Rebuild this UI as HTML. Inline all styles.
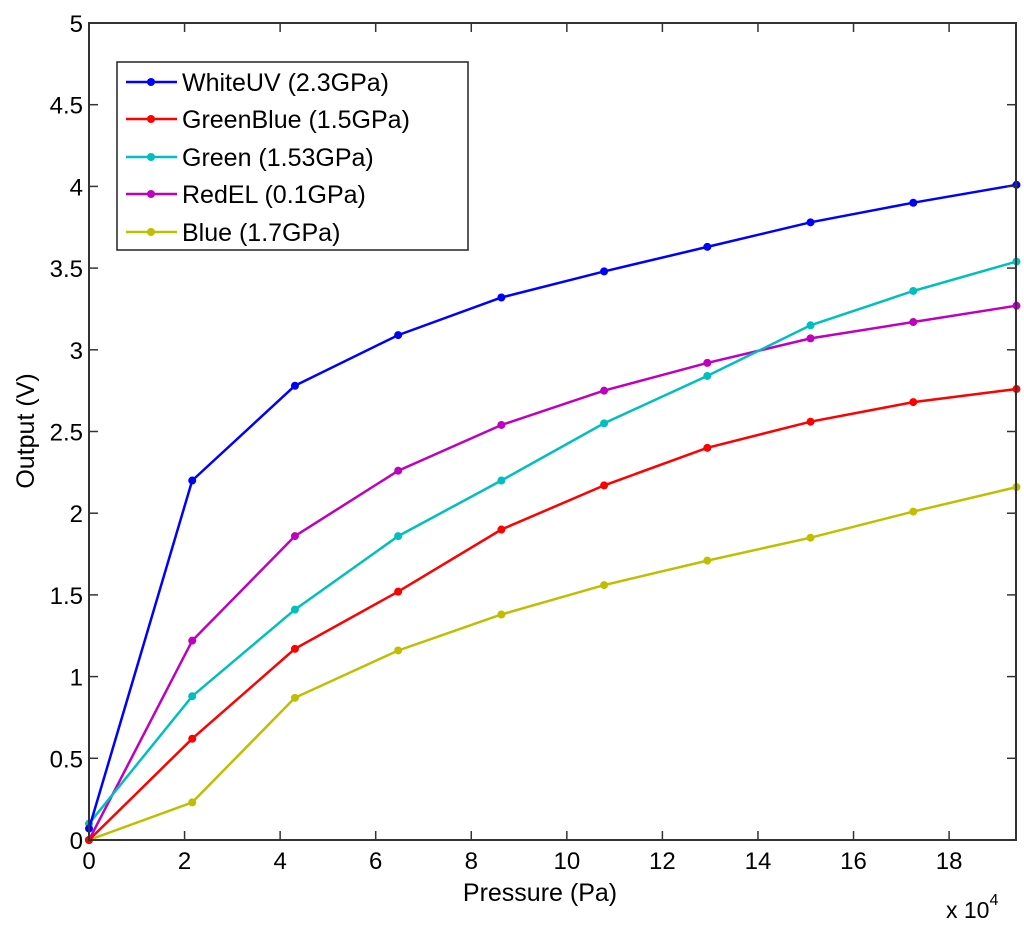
<!DOCTYPE html>
<html><head><meta charset="utf-8"><style>
body{margin:0;background:#fff;}
svg{display:block;font-family:"Liberation Sans",Arial,sans-serif;}
</style></head><body>
<svg id="chart" width="1024" height="926" viewBox="0 0 1024 926" xmlns="http://www.w3.org/2000/svg">
<rect x="0" y="0" width="1024" height="926" fill="#fff"/>
<g id="series"></g>
<rect x="89" y="23" width="927" height="817" fill="none" stroke="#333" stroke-width="2"/>
<g id="ticks"></g>
<text x="540" y="901" font-size="25" text-anchor="middle">Pressure (Pa)</text>
<text x="946" y="918" font-size="23">x 10<tspan dy="-13" font-size="16">4</tspan></text>
<text transform="translate(34,431) rotate(-90)" font-size="25" text-anchor="middle">Output (V)</text>
<g id="legend">
<rect x="117" y="62" width="351" height="188" fill="#fff" stroke="#222" stroke-width="1.5"/>
</g>
</svg>
<script>
const xValues=[0,2.16,4.31,6.47,8.63,10.78,12.94,15.1,17.25,19.41];
const seriesNames=["WhiteUV (2.3GPa)","GreenBlue (1.5GPa)","Green (1.53GPa)","RedEL (0.1GPa)","Blue (1.7GPa)"];
const whiteUV=[0.07,2.2,2.78,3.09,3.32,3.48,3.63,3.78,3.90,4.01];
const greenBlue=[0,0.62,1.17,1.52,1.90,2.17,2.40,2.56,2.68,2.76];
const green=[0.1,0.88,1.41,1.86,2.20,2.55,2.84,3.15,3.36,3.54];
const redEL=[0,1.22,1.86,2.26,2.54,2.75,2.92,3.07,3.17,3.27];
const blue=[0,0.23,0.87,1.16,1.38,1.56,1.71,1.85,2.01,2.16];
const xTicks=[0,2,4,6,8,10,12,14,16,18];
const yTicks=[0,0.5,1,1.5,2,2.5,3,3.5,4,4.5,5];
const yTickLabels=["0","0.5","1","1.5","2","2.5","3","3.5","4","4.5","5"];

const NS="http://www.w3.org/2000/svg";
const X0=89,X1=1016,Y0=840,Y1=23,XMAX=19.4,YMAX=5;
function sx(v){return X0+(X1-X0)*v/XMAX;}
function sy(v){return Y0-(Y0-Y1)*v/YMAX;}
function mk(tag,attrs,parent){const e=document.createElementNS(NS,tag);for(const k in attrs)e.setAttribute(k,attrs[k]);parent.appendChild(e);return e;}

const ticks=document.getElementById('ticks');
xTicks.forEach((t,i)=>{
  const x=sx(t);
  const l1=mk('line',{x1:x,x2:x,y1:Y0,y2:Y0-9,stroke:'#333','stroke-width':1.5},ticks);
  
  
  const l2=mk('line',{x1:x,x2:x,y1:Y1,y2:Y1+9,stroke:'#333','stroke-width':1.5},ticks);
  
  
  const tx=mk('text',{x:x,y:Y0+29,'font-size':24,'text-anchor':'middle'},ticks);
  tx.textContent=String(t);
  
  
});
yTicks.forEach((t,i)=>{
  const y=sy(t);
  const l1=mk('line',{x1:X0,x2:X0+9,y1:y,y2:y,stroke:'#333','stroke-width':1.5},ticks);
  
  
  const l2=mk('line',{x1:X1,x2:X1-9,y1:y,y2:y,stroke:'#333','stroke-width':1.5},ticks);
  
  
  const tx=mk('text',{x:X0-6,y:y+9,'font-size':24,'text-anchor':'end'},ticks);
  tx.textContent=yTickLabels[i];
  
  
});

const allSeries=[whiteUV,greenBlue,green,redEL,blue];
const colors=["#0000ff","#ff0000","#00bfbf","#bf00bf","#bfbf00"];
const keys=["white-uv","green-blue","green","red-el","blue"];
const sg=document.getElementById('series');
for(let s=allSeries.length-1;s>=0;s--){
  const vals=allSeries[s];
  const g=mk('g',{},sg);
  
  
  const pts=vals.map((v,i)=>sx(xValues[i]).toFixed(1)+','+sy(v).toFixed(1)).join(' ');
  const pl=mk('polyline',{points:pts,fill:'none',stroke:colors[s],'stroke-width':2.5},g);
  
  
  vals.forEach((v,i)=>{
    const c=mk('circle',{cx:sx(xValues[i]),cy:sy(v),r:4,fill:colors[s]},g);
    
    
  });
}

const lg=document.getElementById('legend');
const legY=[82,119,157,194,232];
seriesNames.forEach((n,i)=>{
  const g=mk('g',{},lg);
  
  
  mk('line',{x1:126,x2:177,y1:legY[i],y2:legY[i],stroke:colors[i],'stroke-width':2.5},g);
  mk('circle',{cx:151,cy:legY[i],r:4,fill:colors[i]},g);
  const t=mk('text',{x:182,y:legY[i]+9,'font-size':25},g);
  t.textContent=n;
});
</script>
</body></html>
